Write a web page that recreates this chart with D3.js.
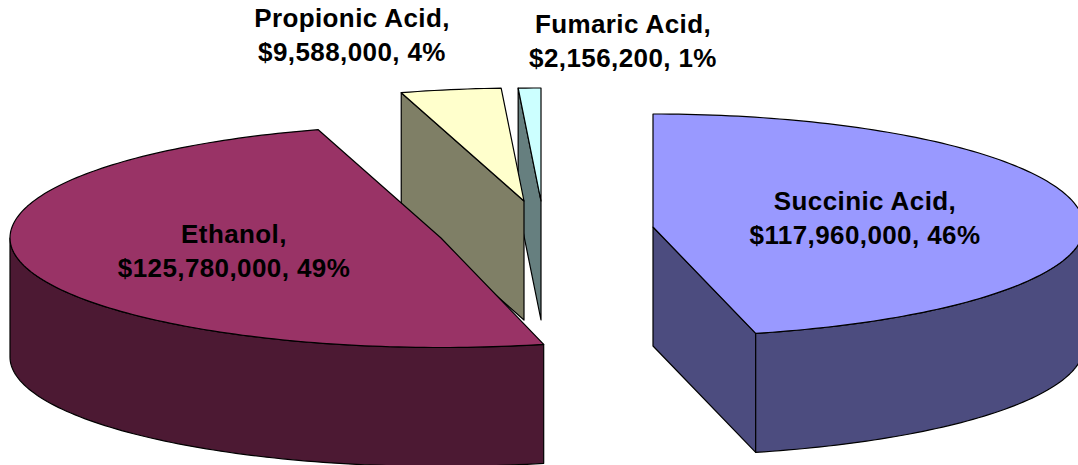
<!DOCTYPE html>
<html>
<head>
<meta charset="utf-8">
<script src="https://cdn.jsdelivr.net/npm/d3@7"></script>
<style>
  html, body { margin: 0; padding: 0; background: #fff; overflow: hidden; }
  svg { display: block; }
  text { font-family: "Liberation Sans", Arial, sans-serif; font-weight: bold; font-size: 26px; letter-spacing: 0.4px; fill: #000; }
</style>
</head>
<body>
<div id="pie-chart"></div>
<script>
const categories = ["Succinic Acid", "Ethanol", "Propionic Acid", "Fumaric Acid"];
const revenue = [117960000, 125780000, 9588000, 2156200];

const topColors = ["#9999ff", "#993366", "#ffffcc", "#ccffff"];
const sideColors = ["#4c4c7f", "#4c1933", "#7f7f66", "#667f7f"];

// where each exploded slice has its tip, and where its label sits
const sliceCenters = [[653, 227], [441, 238], [524, 201], [541, 201]];
const labelSpots = [[865, 210], [234, 243], [352, 27], [623, 33]];

const width = 1078;
const height = 465;
const rx = 431;
// the back of the disc reads a little deeper than the front
const ryBack = 113;
const ryFront = 109.5;
const depth = 119;
const lineGap = 34;

const pie = d3.pie().sort(null).value(d => d);
const slices = pie(revenue);
const total = d3.sum(revenue);

const money = d3.format("$,");
const percent = d3.format(".0%");

const line = d3.line();

// point on the rim, angle is clockwise from 12 o'clock
const rim = (center, angle, drop = 0) => {
  const cos = Math.cos(angle);
  return [
    center[0] + rx * Math.sin(angle),
    center[1] - (cos > 0 ? ryBack : ryFront) * cos + drop
  ];
};

const arcPoints = (center, from, to, drop = 0) => {
  const steps = Math.max(2, Math.ceil((to - from) / 0.02));
  return d3.range(steps + 1).map(i => rim(center, from + (to - from) * i / steps, drop));
};

const svg = d3.select("#pie-chart")
  .append("svg")
  .attr("width", width)
  .attr("height", height)
  .attr("viewBox", `0 0 ${width} ${height}`);

const drawFace = (g, points, fill) => {
  g.append("path")
    .attr("d", line(points) + "Z")
    .attr("fill", fill)
    .attr("stroke", "#000")
    .attr("stroke-width", 1.2)
    .attr("stroke-linejoin", "round");
};

// back slices first so the nearer ones cover them
d3.range(slices.length).reverse().forEach(i => {
  const s = slices[i];
  const c = sliceCenters[i];
  const g = svg.append("g");
  const tipDown = [c[0], c[1] + depth];

  // flat cut faces that turn toward the viewer
  if (Math.sin(s.startAngle) < -1e-6) {
    const p = rim(c, s.startAngle);
    drawFace(g, [c, p, [p[0], p[1] + depth], tipDown], sideColors[i]);
  }
  if (Math.sin(s.endAngle) > 1e-6) {
    const p = rim(c, s.endAngle);
    drawFace(g, [c, p, [p[0], p[1] + depth], tipDown], sideColors[i]);
  }

  // outer wall, only the front half of the rim shows
  const from = Math.max(s.startAngle, Math.PI / 2);
  const to = Math.min(s.endAngle, Math.PI * 1.5);
  if (to > from) {
    const upper = arcPoints(c, from, to);
    const lower = arcPoints(c, from, to, depth).reverse();
    drawFace(g, upper.concat(lower), sideColors[i]);
  }

  // top face
  drawFace(g, [c].concat(arcPoints(c, s.startAngle, s.endAngle)), topColors[i]);
});

// labels go over all the slices
categories.forEach((name, i) => {
  const label = svg.append("text")
    .attr("text-anchor", "middle")
    .attr("x", labelSpots[i][0])
    .attr("y", labelSpots[i][1]);
  label.append("tspan")
    .text(name + ",");
  label.append("tspan")
    .attr("x", labelSpots[i][0])
    .attr("dy", lineGap)
    .text(`${money(revenue[i])}, ${percent(revenue[i] / total)}`);
});
</script>
</body>
</html>
